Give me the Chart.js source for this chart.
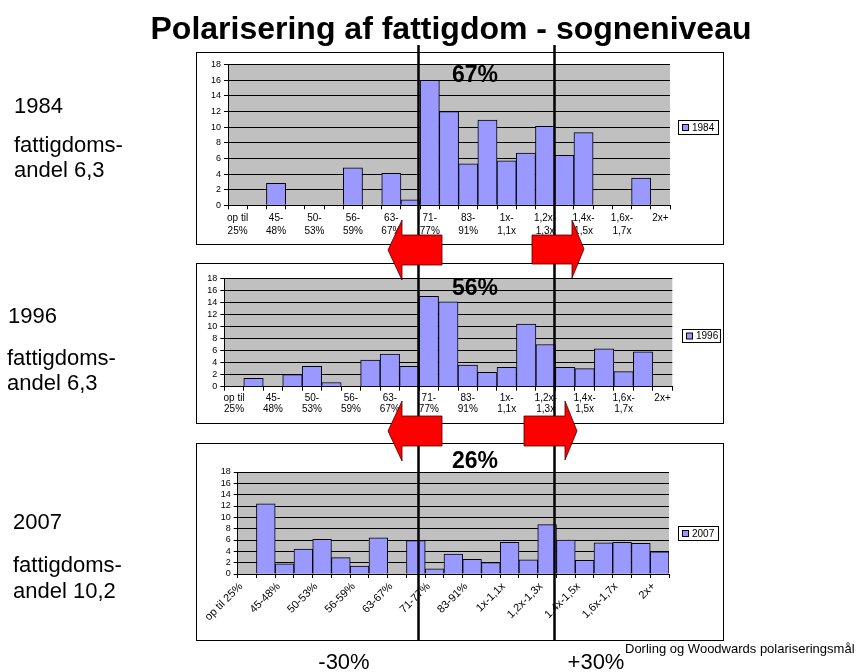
<!DOCTYPE html>
<html>
<head>
<meta charset="utf-8">
<script src="https://cdn.jsdelivr.net/npm/chart.js@4.4.1/dist/chart.umd.min.js"></script>
<style>
body { margin: 0; background: #fff; width: 861px; height: 672px; position: relative; overflow: hidden; font-family: Arial, "Liberation Sans", sans-serif; }
.box { position: absolute; border: 1px solid #000; box-sizing: border-box; background: #fff; }
.box canvas { position: absolute; left: 0; top: 0; }
#overlay { position: absolute; left: 0; top: 0; pointer-events: none; }
</style>
</head>
<body>
<div class="box" style="left:196px;top:52px;width:528px;height:193px"><canvas id="c1984" width="526" height="191"></canvas></div>
<div class="box" style="left:196px;top:263px;width:528px;height:161px"><canvas id="c1996" width="526" height="159"></canvas></div>
<div class="box" style="left:196px;top:443px;width:528px;height:198px"><canvas id="c2007" width="526" height="196"></canvas></div>

<svg id="overlay" width="861" height="672" font-family="Arial, 'Liberation Sans', sans-serif">
  <text x="451" y="39" text-anchor="middle" font-weight="bold" font-size="32">Polarisering af fattigdom - sogneniveau</text>

  <g font-size="22">
    <text x="14" y="113">1984</text>
    <text x="14" y="152">fattigdoms-</text>
    <text x="14" y="177">andel 6,3</text>
    <text x="8" y="323">1996</text>
    <text x="7" y="365">fattigdoms-</text>
    <text x="7" y="390">andel 6,3</text>
    <text x="13" y="529">2007</text>
    <text x="13" y="572">fattigdoms-</text>
    <text x="13" y="598">andel 10,2</text>
    <text x="344" y="669" text-anchor="middle">-30%</text>
    <text x="596" y="669" text-anchor="middle">+30%</text>
  </g>
  <text x="625" y="653" font-size="13">Dorling og Woodwards polariseringsmål</text>

  <!-- skillelinjer -->
  <line x1="418.5" y1="45" x2="418.5" y2="641" stroke="#000" stroke-width="2.5"/>
  <line x1="554.5" y1="45" x2="554.5" y2="641" stroke="#000" stroke-width="2.5"/>

  <!-- pile -->
  <g fill="#FF0000" stroke="#400" stroke-width="0.8">
    <polygon points="388,250 402,220 402,235 442,235 442,265 402,265 402,280"/>
    <polygon points="584,249 572,220 572,235 532,235 532,264 572,264 572,278"/>
    <polygon points="388,431 402,401 402,416 442,416 442,446 402,446 402,461"/>
    <polygon points="577,431 565,401 565,416 524,416 524,446 565,446 565,460"/>
  </g>

  <g font-size="23" font-weight="bold" text-anchor="middle">
    <text x="475" y="82">67%</text>
    <text x="475" y="295">56%</text>
    <text x="475" y="468">26%</text>
  </g>
</svg>

<script>
const categories = ['op til 25%', '25-45%', '45-48%', '48-50%', '50-53%', '53-56%', '56-59%', '59-63%',
  '63-67%', '67-71%', '71-77%', '77-83%', '83-91%', '91-100%', '1x-1,1x', '1,1x-1,2x', '1,2x-1,3x',
  '1,3x-1,4x', '1,4x-1,5x', '1,5x-1,6x', '1,6x-1,7x', '1,7x-2x', '2x+'];

const values1984 = [0, 0, 2.8, 0, 0, 0, 4.8, 0, 4.1, 0.7, 16, 12, 5.3, 10.9, 5.7, 6.7, 10.1, 6.4, 9.3, 0, 0, 3.5, 0];
const values1996 = [0, 1.4, 0, 2.0, 3.4, 0.7, 0, 4.4, 5.4, 3.4, 15, 14.1, 3.6, 2.4, 3.2, 10.4, 7.0, 3.2, 3.0, 6.3, 2.5, 5.8, 0];
const values2007 = [0, 12.4, 1.8, 4.4, 6.1, 2.9, 1.4, 6.4, 0, 5.9, 0.9, 3.5, 2.6, 2.0, 5.6, 2.5, 8.7, 6.0, 2.4, 5.5, 5.6, 5.4, 3.9];

const yTicks = { min: 0, max: 18, step: 2 };

Chart.defaults.font.family = 'Arial, "Liberation Sans", sans-serif';
Chart.defaults.color = '#000';

// graa plotflade som i Excel
const plotBg = {
  id: 'plotBg',
  beforeDraw(chart, args, opts) {
    const { left, top, width, height } = chart.chartArea;
    chart.ctx.save();
    chart.ctx.fillStyle = opts.color;
    chart.ctx.fillRect(left, top, width, height);
    chart.ctx.restore();
  }
};

// lille legendeboks med ramme
const boxLegend = {
  id: 'boxLegend',
  afterDraw(chart, args, opts) {
    const ctx = chart.ctx;
    const ds = chart.data.datasets[0];
    const { x, y, w, h } = opts;
    ctx.save();
    ctx.fillStyle = '#fff';
    ctx.fillRect(x, y, w, h);
    ctx.strokeStyle = '#000';
    ctx.lineWidth = 1;
    ctx.strokeRect(x + 0.5, y + 0.5, w, h);
    ctx.fillStyle = ds.backgroundColor;
    ctx.fillRect(x + 4.5, y + h / 2 - 2.5, 6, 6);
    ctx.strokeRect(x + 4.5, y + h / 2 - 2.5, 6, 6);
    ctx.fillStyle = '#000';
    ctx.font = '10px Arial, "Liberation Sans", sans-serif';
    ctx.textBaseline = 'middle';
    ctx.fillText(ds.label, x + 14, y + h / 2 + 1);
    ctx.restore();
  }
};

function twoLines(s) {
  if (s.startsWith('op til')) return ['op til', '25%'];
  const k = s.indexOf('-');
  return k < 0 ? s : [s.slice(0, k + 1), s.slice(k + 1)];
}

function makeChart(id, year, values, cfg) {
  return new Chart(document.getElementById(id), {
    type: 'bar',
    data: {
      labels: categories,
      datasets: [{
        label: year,
        data: values,
        backgroundColor: '#9999FF',
        borderColor: '#000',
        borderWidth: 1,
        categoryPercentage: 1,
        barPercentage: 1
      }]
    },
    options: {
      responsive: false,
      animation: false,
      layout: { padding: { left: 0, top: cfg.top, right: cfg.right, bottom: 0 } },
      plugins: {
        legend: { display: false },
        tooltip: { enabled: false },
        plotBg: { color: '#C0C0C0' },
        boxLegend: cfg.legend
      },
      scales: {
        x: {
          offset: true,
          grid: { offset: true, drawOnChartArea: false, color: '#000', tickLength: 4 },
          border: { color: '#000' },
          ticks: {
            autoSkip: false,
            minRotation: cfg.rot,
            maxRotation: cfg.rot,
            padding: 2,
            labelOffset: cfg.lo,
            font: { size: cfg.xfs, lineHeight: cfg.lh },
            callback: (v, i) => (i % 2 ? '' : (cfg.rot ? categories[i] : twoLines(categories[i])))
          },
          afterFit: s => { s.height = cfg.xh; }
        },
        y: {
          min: yTicks.min,
          max: yTicks.max,
          ticks: { stepSize: yTicks.step, autoSkip: false, padding: 3, font: { size: 9, lineHeight: 1 } },
          grid: { color: '#000', tickLength: 4 },
          border: { color: '#000' },
          afterFit: s => { s.width = cfg.yw; }
        }
      }
    },
    plugins: [plotBg, boxLegend]
  });
}

makeChart('c1984', '1984', values1984, {
  top: 11.7, right: 53, yw: 31, xh: 38.7, rot: 0, lh: 1.3, xfs: 10, lo: 0,
  legend: { x: 481, y: 67, w: 40, h: 14 }
});
makeChart('c1996', '1996', values1996, {
  top: 14.3, right: 50.7, yw: 27.3, xh: 36.3, rot: 0, lh: 1.1, xfs: 10, lo: 0,
  legend: { x: 485, y: 65, w: 38, h: 13 }
});
makeChart('c2007', '2007', values2007, {
  top: 28, right: 54, yw: 40.7, xh: 66, rot: 45, lh: 1.2, xfs: 11, lo: -6,
  legend: { x: 481, y: 82, w: 40, h: 14 }
});
</script>
</body>
</html>
